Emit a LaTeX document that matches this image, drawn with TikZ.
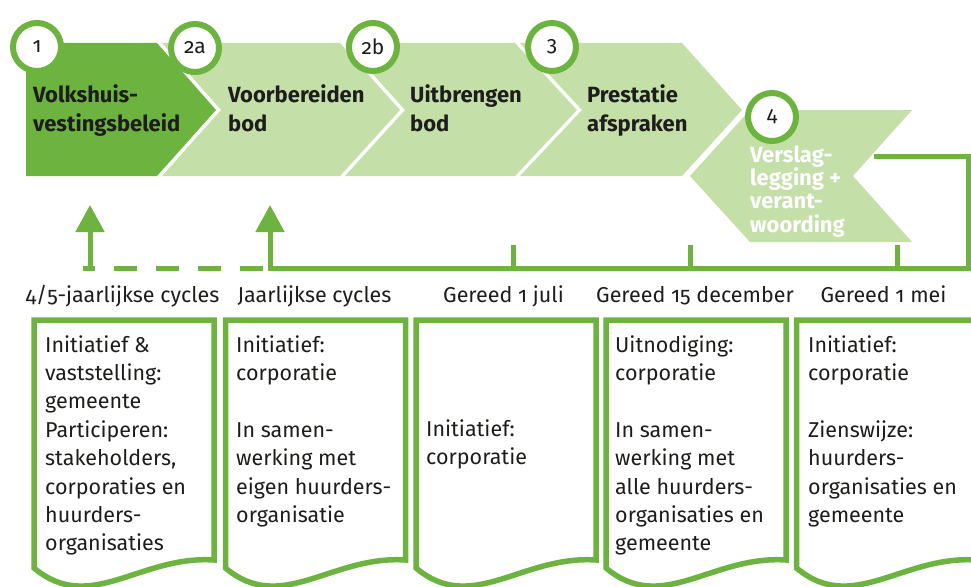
\documentclass[tikz,border=0pt]{standalone}
\usepackage{fontspec}
\setmainfont{Fira Sans}[Numbers=OldStyle]
\usetikzlibrary{arrows.meta}
\definecolor{dgreen}{HTML}{6CB33F}
\definecolor{lgreen}{HTML}{C5DFA8}
\definecolor{ink}{HTML}{1D1D1B}
\tikzset{
  chevdark/.style={fill=dgreen, draw=none},
  chevlight/.style={fill=lgreen, draw=none},
  ring/.style={circle, draw=dgreen, line width=6pt, fill=white, minimum size=48pt, inner sep=0pt, text=ink, font=\fontsize{21}{24}\selectfont},
  chevtext/.style={anchor=base west, align=left, inner sep=0pt, text=ink, font=\fontsize{22}{29.5}\selectfont\bfseries},
  chevwhite/.style={anchor=base west, align=left, inner sep=0pt, text=white, font=\fontsize{22}{23.3}\selectfont\bfseries},
  boxline/.style={draw=dgreen, line width=5.5pt},
  boxtext/.style={anchor=base west, align=left, inner sep=0pt, text=ink, font=\fontsize{21.5}{28.4}\selectfont},
  toplabel/.style={anchor=base, inner sep=0pt, text=ink, font=\fontsize{21.5}{24}\selectfont},
  conn/.style={draw=dgreen, line width=5pt},
  arrowconn/.style={conn, -{Triangle[width=28pt,length=27pt]}},
}
\begin{document}
\begin{tikzpicture}[x=1pt,y=-1pt]
\useasboundingbox (0,0) rectangle (971,586);
\clip (0,0) rectangle (971,586);
% chevrons
\fill[chevdark] (26,43) -- (157,43) -- (216,110) -- (157,176) -- (26,176) -- cycle;
\fill[chevlight] (162,43) -- (340,43) -- (400,110) -- (340,176) -- (162,176) -- (221,110) -- cycle;
\fill[chevlight] (345,43) -- (515,43) -- (577,110) -- (515,176) -- (345,176) -- (405,110) -- cycle;
\fill[chevlight] (520,43) -- (682,43) -- (742,110) -- (682,176) -- (520,176) -- (582,110) -- cycle;
\fill[chevlight] (750,110) -- (912,110) -- (853,176) -- (912,242) -- (750,242) -- (690,176) -- cycle;
% chevron texts (anchor = baseline of last line)
\node[chevtext] (t1) at (33,131.5) {Volkshuis-\\vestingsbeleid};
\node[chevtext] (t2) at (228,131.5) {Voorbereiden\\bod};
\node[chevtext] (t3) at (410,131.5) {Uitbrengen\\bod};
\node[chevtext] (t4) at (587,131.5) {Prestatie\\afspraken};
\node[chevwhite] (t5) at (750,232) {Verslag-\\legging +\\verant-\\woording};
% circles
\node[ring] (c1) at (37,47) {1};
\node[ring] (c2a) at (195,48) {2a};
\node[ring] (c2b) at (373,47) {2b};
\node[ring] (c3) at (552,47) {3};
\node[ring] (c4) at (772,117) {4};
% connectors
\coordinate (d0) at (83,268);
\coordinate (s0) at (268,268);
\coordinate (s1) at (968,268);
\coordinate (s2) at (968,156);
\coordinate (s3) at (874,156);
\coordinate (a1b) at (90,268);
\coordinate (a1t) at (90,205);
\coordinate (a2b) at (270,268);
\coordinate (a2t) at (270,205);
\coordinate (k1b) at (513,268);
\coordinate (k1t) at (513,245);
\coordinate (k2b) at (690,268);
\coordinate (k2t) at (690,245);
\coordinate (k3b) at (897,268);
\coordinate (k3t) at (897,245);
\draw[conn, dash pattern=on 23pt off 19pt, dash phase=11pt] (d0) -- (s0);
\draw[conn] (s0) -- (s1) -- (s2) -- (s3);
\draw[arrowconn] (a1b) -- (a1t);
\draw[arrowconn] (a2b) -- (a2t);
\draw[conn] (k1b) -- (k1t);
\draw[conn] (k2b) -- (k2t);
\draw[conn] (k3b) -- (k3t);
% top labels
\node[toplabel] (l1) at (122.5,302) {4/5-jaarlijkse cycles};
\node[toplabel] (l2) at (314.5,302) {Jaarlijkse cycles};
\node[toplabel] (l3) at (503.5,302) {Gereed 1 juli};
\node[toplabel] (l4) at (695,302) {Gereed 15 december};
\node[toplabel] (l5) at (883.5,302) {Gereed 1 mei};
% document boxes
\foreach \bx in {34,225.5,416,606,796.5}{
  \draw[boxline] (\bx,568) -- (\bx,320) -- (\bx+180,320) -- (\bx+180,560)
    .. controls (\bx+106,555) and (\bx+56,615) .. (\bx,568) -- cycle;
}
% box texts (anchor = baseline of last line)
\node[boxtext] (b1) at (45,550.8) {Initiatief \&\\vaststelling:\\gemeente\\Participeren:\\stakeholders,\\corporaties en\\huurders-\\organisaties};
\node[boxtext] (b2) at (236,522.4) {Initiatief:\\corporatie\\[28.4pt]In samen-\\werking met\\eigen huurders-\\organisatie};
\node[boxtext] (b3) at (426,464.4) {Initiatief:\\corporatie};
\node[boxtext] (b4) at (615,550.8) {Uitnodiging:\\corporatie\\[28.4pt]In samen-\\werking met\\alle huurders-\\organisaties en\\gemeente};
\node[boxtext] (b5) at (808,522.4) {Initiatief:\\corporatie\\[28.4pt]Zienswijze:\\huurders-\\organisaties en\\gemeente};
\end{tikzpicture}
\end{document}
